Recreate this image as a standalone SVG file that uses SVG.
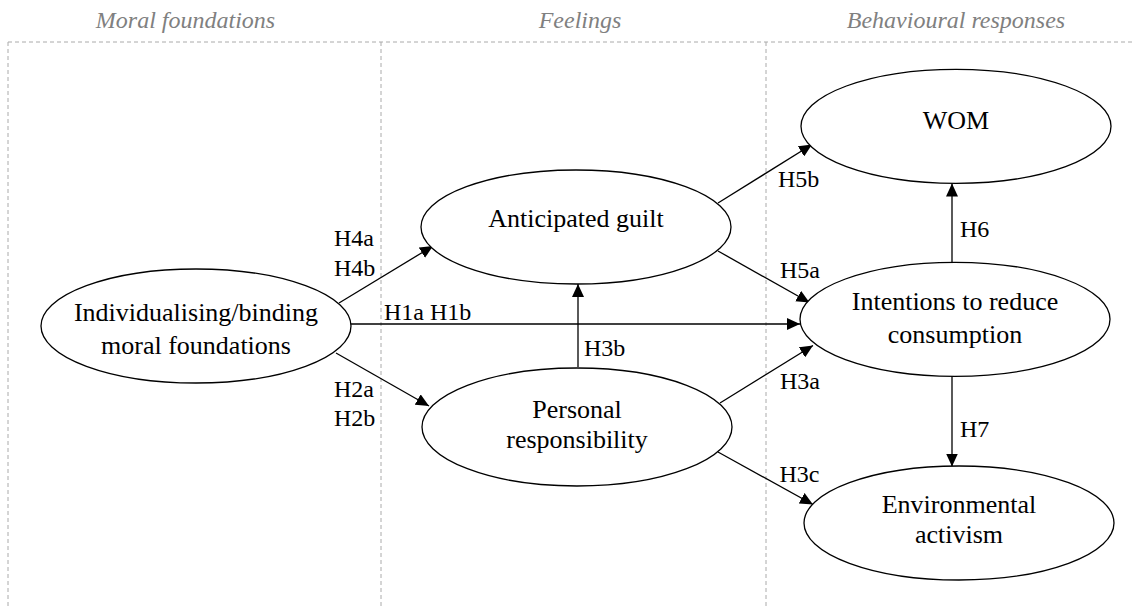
<svg xmlns="http://www.w3.org/2000/svg" width="1134" height="606" viewBox="0 0 1134 606">
<style>
.bg{fill:#fff}
.dash{stroke:#aaaaaa;stroke-width:1;stroke-dasharray:4 3;fill:none}
.title{font-family:"Liberation Serif","Times New Roman",serif;font-style:italic;font-size:24px;fill:#808080;text-anchor:middle}
.node ellipse{fill:#fff;stroke:#000;stroke-width:1.3}
.node text{font-family:"Liberation Serif","Times New Roman",serif;font-size:26px;fill:#000;text-anchor:middle}
.edge{stroke:#000;stroke-width:1.3;fill:none;marker-end:url(#arr)}
.lbl{font-family:"Liberation Serif","Times New Roman",serif;font-size:24px;fill:#000}
</style>
<defs>
<marker id="arr" markerUnits="userSpaceOnUse" markerWidth="13" markerHeight="12" refX="13" refY="6" orient="auto">
<path d="M0,0 L13,6 L0,12 z" fill="#000"/>
</marker>
</defs>
<rect class="bg" x="0" y="0" width="1134" height="606"/>
<g id="panels">
<path class="dash" d="M8,42 H1134 M8,42 V606 M381,42 V606 M766,42 V606"/>
<text class="title" x="185.5" y="28">Moral foundations</text>
<text class="title" x="580" y="28">Feelings</text>
<text class="title" x="956" y="28">Behavioural responses</text>
</g>
<g id="connectors">
<line class="edge" x1="339" y1="303" x2="433" y2="246"/>
<line class="edge" x1="336" y1="353" x2="429" y2="406"/>
<line class="edge" x1="350" y1="324" x2="800" y2="324"/>
<line class="edge" x1="578" y1="367" x2="578" y2="284"/>
<line class="edge" x1="718" y1="203" x2="812" y2="144.5"/>
<line class="edge" x1="718" y1="251" x2="809.5" y2="302.5"/>
<line class="edge" x1="720" y1="403" x2="813" y2="345.5"/>
<line class="edge" x1="718" y1="452" x2="813" y2="504.5"/>
<line class="edge" x1="952" y1="263" x2="952" y2="183.5"/>
<line class="edge" x1="952" y1="376" x2="952" y2="466.5"/>
<text class="lbl" x="334" y="246">H4a</text>
<text class="lbl" x="334" y="276">H4b</text>
<text class="lbl" x="334" y="396.5">H2a</text>
<text class="lbl" x="334" y="426">H2b</text>
<text class="lbl" x="384" y="320">H1a H1b</text>
<text class="lbl" x="584" y="356">H3b</text>
<text class="lbl" x="778" y="187">H5b</text>
<text class="lbl" x="780" y="277.5">H5a</text>
<text class="lbl" x="780" y="388.5">H3a</text>
<text class="lbl" x="779.5" y="482">H3c</text>
<text class="lbl" x="960" y="236.5">H6</text>
<text class="lbl" x="960" y="436.5">H7</text>
</g>
<g id="node-moral" class="node">
<ellipse cx="196" cy="326" rx="155" ry="57"/>
<text x="196" y="320.7">Individualising/binding</text>
<text x="196" y="354">moral foundations</text>
</g>
<g id="node-guilt" class="node">
<ellipse cx="576" cy="227" rx="155" ry="57"/>
<text x="576" y="227">Anticipated guilt</text>
</g>
<g id="node-responsibility" class="node">
<ellipse cx="577" cy="427" rx="155" ry="59"/>
<text x="577" y="417.7">Personal</text>
<text x="577" y="448.3">responsibility</text>
</g>
<g id="node-wom" class="node">
<ellipse cx="956" cy="126.3" rx="155" ry="57"/>
<text x="956" y="129">WOM</text>
</g>
<g id="node-intentions" class="node">
<ellipse cx="955" cy="319.3" rx="155" ry="57"/>
<text x="955" y="310">Intentions to reduce</text>
<text x="955" y="342.7">consumption</text>
</g>
<g id="node-activism" class="node">
<ellipse cx="959" cy="523" rx="155" ry="57"/>
<text x="959" y="512.7">Environmental</text>
<text x="959" y="543.3">activism</text>
</g>
</svg>
